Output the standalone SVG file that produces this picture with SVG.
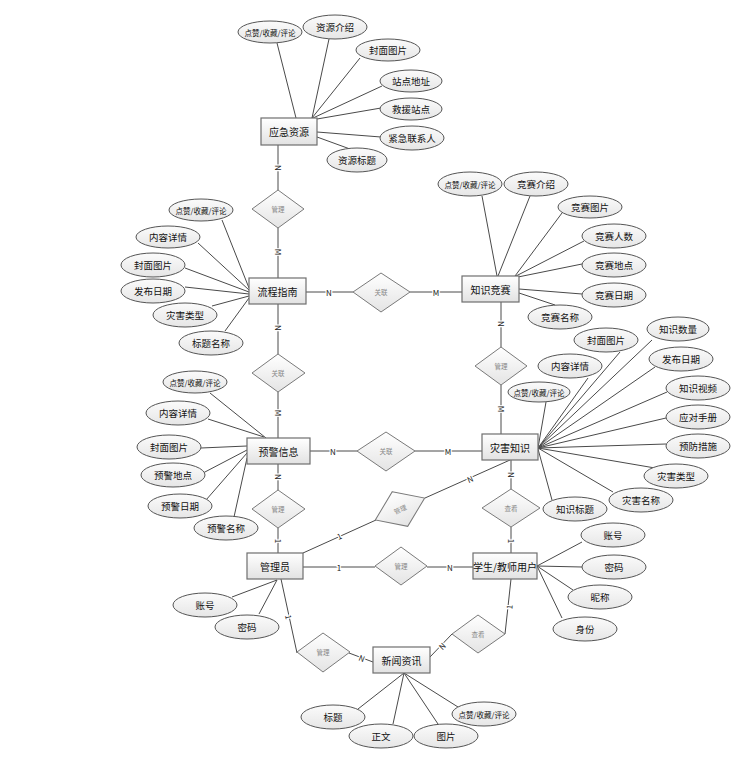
<svg xmlns="http://www.w3.org/2000/svg" width="746" height="766" viewBox="0 0 746 766">
<style>
text{font-family:"Noto Sans CJK SC","Liberation Sans",sans-serif;text-anchor:middle;dominant-baseline:central}
.ent rect{fill:url(#gEnt);stroke:#6e6e6e;stroke-width:1.2}
.ent text{font-size:10px;fill:#111}
.att ellipse{fill:url(#gAtt);stroke:#555;stroke-width:1}
.att text{font-size:9.5px;fill:#111}
.att text.s{font-size:7.5px}
.rel polygon{fill:url(#gRel);stroke:#7a7a7a;stroke-width:1}
.rel text{font-size:6.5px;fill:#888}
#connectors line,#connectors polyline{stroke:#4a4a4a;stroke-width:1;fill:none}
.lb{font-size:8px;fill:#222;stroke:#fff;stroke-width:2.5;paint-order:stroke}
</style>
<defs>
<linearGradient id="gEnt" x1="0" y1="0" x2="0" y2="1"><stop offset="0" stop-color="#ffffff"/><stop offset="1" stop-color="#e2e2e2"/></linearGradient>
<linearGradient id="gAtt" x1="0" y1="0" x2="0" y2="1"><stop offset="0" stop-color="#fbfbfb"/><stop offset="1" stop-color="#e6e6e6"/></linearGradient>
<linearGradient id="gRel" x1="0" y1="0" x2="0" y2="1"><stop offset="0" stop-color="#ffffff"/><stop offset="1" stop-color="#e4e4e4"/></linearGradient>
</defs>
<rect width="746" height="766" fill="#fff"/>
<g id="connectors">
<!-- 应急资源 attrs -->
<line x1="277" y1="43" x2="296" y2="118"/>
<line x1="329" y1="39" x2="312" y2="118"/>
<line x1="360" y1="58" x2="312" y2="118"/>
<line x1="382" y1="86" x2="313" y2="118"/>
<line x1="381" y1="108" x2="317" y2="119"/>
<line x1="381" y1="137" x2="317" y2="132"/>
<line x1="350" y1="149" x2="317" y2="137"/>
<!-- 流程指南 attrs -->
<line x1="222" y1="220" x2="249" y2="288"/>
<line x1="198" y1="243" x2="249" y2="290"/>
<line x1="185" y1="268" x2="249" y2="292"/>
<line x1="185" y1="287" x2="249" y2="294"/>
<line x1="212" y1="306" x2="249" y2="296"/>
<line x1="225" y1="331" x2="249" y2="298"/>
<!-- 知识竞赛 attrs -->
<line x1="482" y1="196" x2="497" y2="276"/>
<line x1="530" y1="196" x2="498" y2="276"/>
<line x1="562" y1="213" x2="515" y2="276"/>
<line x1="584" y1="241" x2="516" y2="276"/>
<line x1="582" y1="264" x2="518" y2="277"/>
<line x1="582" y1="294" x2="519" y2="289"/>
<line x1="555" y1="305" x2="519" y2="293"/>
<!-- 预警信息 attrs -->
<line x1="210" y1="393" x2="266" y2="438"/>
<line x1="208" y1="419" x2="264" y2="437"/>
<line x1="201" y1="448" x2="247" y2="446"/>
<line x1="203" y1="473" x2="247" y2="450"/>
<line x1="206" y1="500" x2="247" y2="453"/>
<line x1="234" y1="517" x2="247" y2="458"/>
<!-- 灾害知识 attrs -->
<line x1="546" y1="402" x2="538" y2="448"/>
<line x1="588" y1="378" x2="538" y2="448"/>
<line x1="620" y1="352" x2="538" y2="448"/>
<line x1="652" y1="340" x2="538" y2="448"/>
<line x1="655" y1="367" x2="538" y2="448"/>
<line x1="667" y1="392" x2="538" y2="448"/>
<line x1="666" y1="418" x2="538" y2="448"/>
<line x1="666" y1="444" x2="538" y2="448"/>
<line x1="655" y1="468" x2="538" y2="448"/>
<line x1="613" y1="492" x2="538" y2="448"/>
<line x1="552" y1="500" x2="538" y2="449"/>
<!-- 管理员 attrs -->
<line x1="232" y1="597" x2="277" y2="580"/>
<line x1="259" y1="614" x2="277" y2="580"/>
<!-- 学生/教师用户 attrs -->
<line x1="582" y1="542" x2="537" y2="566"/>
<line x1="582" y1="567" x2="537" y2="566"/>
<line x1="573" y1="590" x2="537" y2="566"/>
<line x1="562" y1="618" x2="537" y2="566"/>
<!-- 新闻资讯 attrs -->
<line x1="358" y1="709" x2="404" y2="673"/>
<line x1="393" y1="724" x2="404" y2="673"/>
<line x1="438" y1="724" x2="404" y2="673"/>
<line x1="458" y1="707" x2="404" y2="673"/>
<!-- relationship lines -->
<line x1="278" y1="145" x2="278" y2="190"/>
<line x1="278" y1="228" x2="278" y2="278"/>
<line x1="278" y1="304" x2="278" y2="354"/>
<line x1="278" y1="392" x2="278" y2="438"/>
<line x1="278" y1="464" x2="278" y2="490"/>
<line x1="278" y1="528" x2="278" y2="553"/>
<line x1="306" y1="292" x2="353" y2="292"/>
<line x1="410" y1="292" x2="462" y2="292"/>
<line x1="310" y1="451" x2="357" y2="451"/>
<line x1="415" y1="451" x2="482" y2="451"/>
<line x1="501" y1="302" x2="501" y2="347"/>
<line x1="501" y1="385" x2="501" y2="434"/>
<line x1="511" y1="460" x2="511" y2="489"/>
<line x1="511" y1="527" x2="511" y2="553"/>
<line x1="303" y1="553" x2="376" y2="520"/>
<line x1="425" y1="498" x2="510" y2="460"/>
<line x1="303" y1="567" x2="375" y2="567"/>
<line x1="427" y1="567" x2="473" y2="567"/>
<line x1="281" y1="579" x2="297" y2="653"/>
<line x1="349" y1="653" x2="373" y2="662"/>
<line x1="511" y1="579" x2="505" y2="634"/>
<line x1="452" y1="634" x2="430" y2="657"/>
<!-- cardinality labels -->
<text class="lb" transform="translate(278,168) rotate(90)">N</text>
<text class="lb" transform="translate(278,252) rotate(90)">M</text>
<text class="lb" transform="translate(278,328) rotate(90)">N</text>
<text class="lb" transform="translate(278,413) rotate(90)">M</text>
<text class="lb" transform="translate(278,477) rotate(90)">N</text>
<text class="lb" transform="translate(278,541) rotate(90)">1</text>
<text class="lb" x="329" y="292">N</text>
<text class="lb" x="436" y="292">M</text>
<text class="lb" x="333" y="451">N</text>
<text class="lb" x="448" y="451">M</text>
<text class="lb" transform="translate(501,324) rotate(90)">N</text>
<text class="lb" transform="translate(501,409) rotate(90)">M</text>
<text class="lb" transform="translate(511,475) rotate(90)">N</text>
<text class="lb" transform="translate(511,541) rotate(90)">1</text>
<text class="lb" transform="translate(339,536) rotate(-24)">1</text>
<text class="lb" transform="translate(470,479) rotate(-24)">N</text>
<text class="lb" x="339" y="567">1</text>
<text class="lb" x="450" y="567">N</text>
<text class="lb" transform="translate(289,617) rotate(78)">1</text>
<text class="lb" transform="translate(362,658) rotate(21)">N</text>
<text class="lb" transform="translate(509,607) rotate(-84)">1</text>
<text class="lb" transform="translate(442,646) rotate(-46)">N</text>
</g>
<!-- entities -->
<g id="e_yjzy" class="ent"><rect x="261" y="118" width="56" height="27"/><text x="289" y="131.5">应急资源</text></g>
<g id="e_lczn" class="ent"><rect x="249" y="278" width="57" height="26"/><text x="277.5" y="291">流程指南</text></g>
<g id="e_zsjs" class="ent"><rect x="462" y="276" width="57" height="26"/><text x="490.5" y="289">知识竞赛</text></g>
<g id="e_yjxx" class="ent"><rect x="247" y="438" width="63" height="26"/><text x="278.5" y="451">预警信息</text></g>
<g id="e_zhzs" class="ent"><rect x="482" y="434" width="56" height="26"/><text x="510" y="447">灾害知识</text></g>
<g id="e_gly" class="ent"><rect x="247" y="553" width="56" height="26"/><text x="275" y="566">管理员</text></g>
<g id="e_user" class="ent"><rect x="473" y="553" width="64" height="26"/><text x="505" y="566">学生/教师用户</text></g>
<g id="e_xwzx" class="ent"><rect x="373" y="647" width="57" height="26"/><text x="401.5" y="660">新闻资讯</text></g>
<!-- relationships -->
<g id="r1" class="rel"><polygon points="278,190 304,209 278,228 252,209"/><text x="278" y="209">管理</text></g>
<g id="r2" class="rel"><polygon points="381,273 410,292 381,312 353,292"/><text x="381" y="292">关联</text></g>
<g id="r3" class="rel"><polygon points="278,354 305,373 278,392 252,373"/><text x="278" y="373">关联</text></g>
<g id="r4" class="rel"><polygon points="501,347 527,366 501,385 475,366"/><text x="501" y="366">管理</text></g>
<g id="r5" class="rel"><polygon points="386,432 415,451 386,471 357,451"/><text x="386" y="451">关联</text></g>
<g id="r6" class="rel"><polygon points="278,490 305,509 278,528 252,509"/><text x="278" y="509">管理</text></g>
<g id="r7" class="rel" transform="translate(400,509) rotate(-24)"><polygon points="0,-19 27,0 0,19 -27,0"/><text x="0" y="0">管理</text></g>
<g id="r8" class="rel"><polygon points="401,547 427,566 401,585 375,566"/><text x="401" y="566">管理</text></g>
<g id="r9" class="rel"><polygon points="511,489 540,508 511,527 482,508"/><text x="511" y="508">查看</text></g>
<g id="r10" class="rel"><polygon points="323,633 350,652 323,672 297,652"/><text x="323" y="652">管理</text></g>
<g id="r11" class="rel"><polygon points="478,615 505,634 478,653 452,634"/><text x="478" y="634">查看</text></g>
<!-- attributes: 应急资源 -->
<g id="a1" class="att"><ellipse cx="270" cy="32" rx="32" ry="11"/><text class="s" x="270" y="32">点赞/收藏/评论</text></g>
<g id="a2" class="att"><ellipse cx="335" cy="27" rx="32" ry="12"/><text x="335" y="27">资源介绍</text></g>
<g id="a3" class="att"><ellipse cx="388" cy="50" rx="32" ry="11"/><text x="388" y="50">封面图片</text></g>
<g id="a4" class="att"><ellipse cx="411" cy="81" rx="31" ry="11"/><text x="411" y="81">站点地址</text></g>
<g id="a5" class="att"><ellipse cx="411" cy="109" rx="31" ry="11"/><text x="411" y="109">救援站点</text></g>
<g id="a6" class="att"><ellipse cx="412" cy="138" rx="32" ry="12"/><text x="412" y="138">紧急联系人</text></g>
<g id="a7" class="att"><ellipse cx="357" cy="160" rx="30" ry="12"/><text x="357" y="160">资源标题</text></g>
<!-- 流程指南 -->
<g id="a8" class="att"><ellipse cx="201" cy="210" rx="32" ry="11"/><text class="s" x="201" y="210">点赞/收藏/评论</text></g>
<g id="a9" class="att"><ellipse cx="168" cy="237" rx="32" ry="11"/><text x="168" y="237">内容详情</text></g>
<g id="a10" class="att"><ellipse cx="153" cy="265" rx="32" ry="12"/><text x="153" y="265">封面图片</text></g>
<g id="a11" class="att"><ellipse cx="153" cy="291" rx="32" ry="12"/><text x="153" y="291">发布日期</text></g>
<g id="a12" class="att"><ellipse cx="185" cy="315" rx="32" ry="12"/><text x="185" y="315">灾害类型</text></g>
<g id="a13" class="att"><ellipse cx="211" cy="343" rx="32" ry="12"/><text x="211" y="343">标题名称</text></g>
<!-- 知识竞赛 -->
<g id="a14" class="att"><ellipse cx="470" cy="184" rx="32" ry="12"/><text class="s" x="470" y="184">点赞/收藏/评论</text></g>
<g id="a15" class="att"><ellipse cx="536" cy="184" rx="32" ry="12"/><text x="536" y="184">竞赛介绍</text></g>
<g id="a16" class="att"><ellipse cx="590" cy="207" rx="32" ry="11"/><text x="590" y="207">竞赛图片</text></g>
<g id="a17" class="att"><ellipse cx="614" cy="236" rx="32" ry="12"/><text x="614" y="236">竞赛人数</text></g>
<g id="a18" class="att"><ellipse cx="614" cy="265" rx="32" ry="12"/><text x="614" y="265">竞赛地点</text></g>
<g id="a19" class="att"><ellipse cx="614" cy="295" rx="32" ry="12"/><text x="614" y="295">竞赛日期</text></g>
<g id="a20" class="att"><ellipse cx="560" cy="317" rx="32" ry="12"/><text x="560" y="317">竞赛名称</text></g>
<!-- 预警信息 -->
<g id="a21" class="att"><ellipse cx="195" cy="382" rx="32" ry="11"/><text class="s" x="195" y="382">点赞/收藏/评论</text></g>
<g id="a22" class="att"><ellipse cx="178" cy="413" rx="32" ry="12"/><text x="178" y="413">内容详情</text></g>
<g id="a23" class="att"><ellipse cx="169" cy="447" rx="32" ry="12"/><text x="169" y="447">封面图片</text></g>
<g id="a24" class="att"><ellipse cx="173" cy="475" rx="32" ry="12"/><text x="173" y="475">预警地点</text></g>
<g id="a25" class="att"><ellipse cx="180" cy="506" rx="32" ry="12"/><text x="180" y="506">预警日期</text></g>
<g id="a26" class="att"><ellipse cx="226" cy="528" rx="32" ry="12"/><text x="226" y="528">预警名称</text></g>
<!-- 灾害知识 -->
<g id="a27" class="att"><ellipse cx="539" cy="392" rx="31" ry="10"/><text class="s" x="539" y="392">点赞/收藏/评论</text></g>
<g id="a28" class="att"><ellipse cx="570" cy="366" rx="32" ry="12"/><text x="570" y="366">内容详情</text></g>
<g id="a29" class="att"><ellipse cx="606" cy="340" rx="32" ry="12"/><text x="606" y="340">封面图片</text></g>
<g id="a30" class="att"><ellipse cx="678" cy="329" rx="31" ry="12"/><text x="678" y="329">知识数量</text></g>
<g id="a31" class="att"><ellipse cx="681" cy="359" rx="32" ry="12"/><text x="681" y="359">发布日期</text></g>
<g id="a32" class="att"><ellipse cx="698" cy="388" rx="32" ry="12"/><text x="698" y="388">知识视频</text></g>
<g id="a33" class="att"><ellipse cx="698" cy="417" rx="32" ry="12"/><text x="698" y="417">应对手册</text></g>
<g id="a34" class="att"><ellipse cx="698" cy="446" rx="32" ry="12"/><text x="698" y="446">预防措施</text></g>
<g id="a35" class="att"><ellipse cx="676" cy="476" rx="32" ry="12"/><text x="676" y="476">灾害类型</text></g>
<g id="a36" class="att"><ellipse cx="641" cy="500" rx="32" ry="12"/><text x="641" y="500">灾害名称</text></g>
<g id="a37" class="att"><ellipse cx="575" cy="509" rx="32" ry="12"/><text x="575" y="509">知识标题</text></g>
<!-- 管理员 -->
<g id="a38" class="att"><ellipse cx="205" cy="605" rx="32" ry="12"/><text x="205" y="605">账号</text></g>
<g id="a39" class="att"><ellipse cx="247" cy="627" rx="32" ry="12"/><text x="247" y="627">密码</text></g>
<!-- 学生/教师用户 -->
<g id="a40" class="att"><ellipse cx="613" cy="535" rx="32" ry="12"/><text x="613" y="535">账号</text></g>
<g id="a41" class="att"><ellipse cx="614" cy="567" rx="32" ry="12"/><text x="614" y="567">密码</text></g>
<g id="a42" class="att"><ellipse cx="600" cy="597" rx="32" ry="12"/><text x="600" y="597">昵称</text></g>
<g id="a43" class="att"><ellipse cx="585" cy="629" rx="32" ry="12"/><text x="585" y="629">身份</text></g>
<!-- 新闻资讯 -->
<g id="a44" class="att"><ellipse cx="333" cy="717" rx="32" ry="12"/><text x="333" y="717">标题</text></g>
<g id="a45" class="att"><ellipse cx="381" cy="736" rx="32" ry="12"/><text x="381" y="736">正文</text></g>
<g id="a46" class="att"><ellipse cx="446" cy="736" rx="32" ry="12"/><text x="446" y="736">图片</text></g>
<g id="a47" class="att"><ellipse cx="484" cy="714" rx="32" ry="12"/><text class="s" x="484" y="714">点赞/收藏/评论</text></g>
</svg>
